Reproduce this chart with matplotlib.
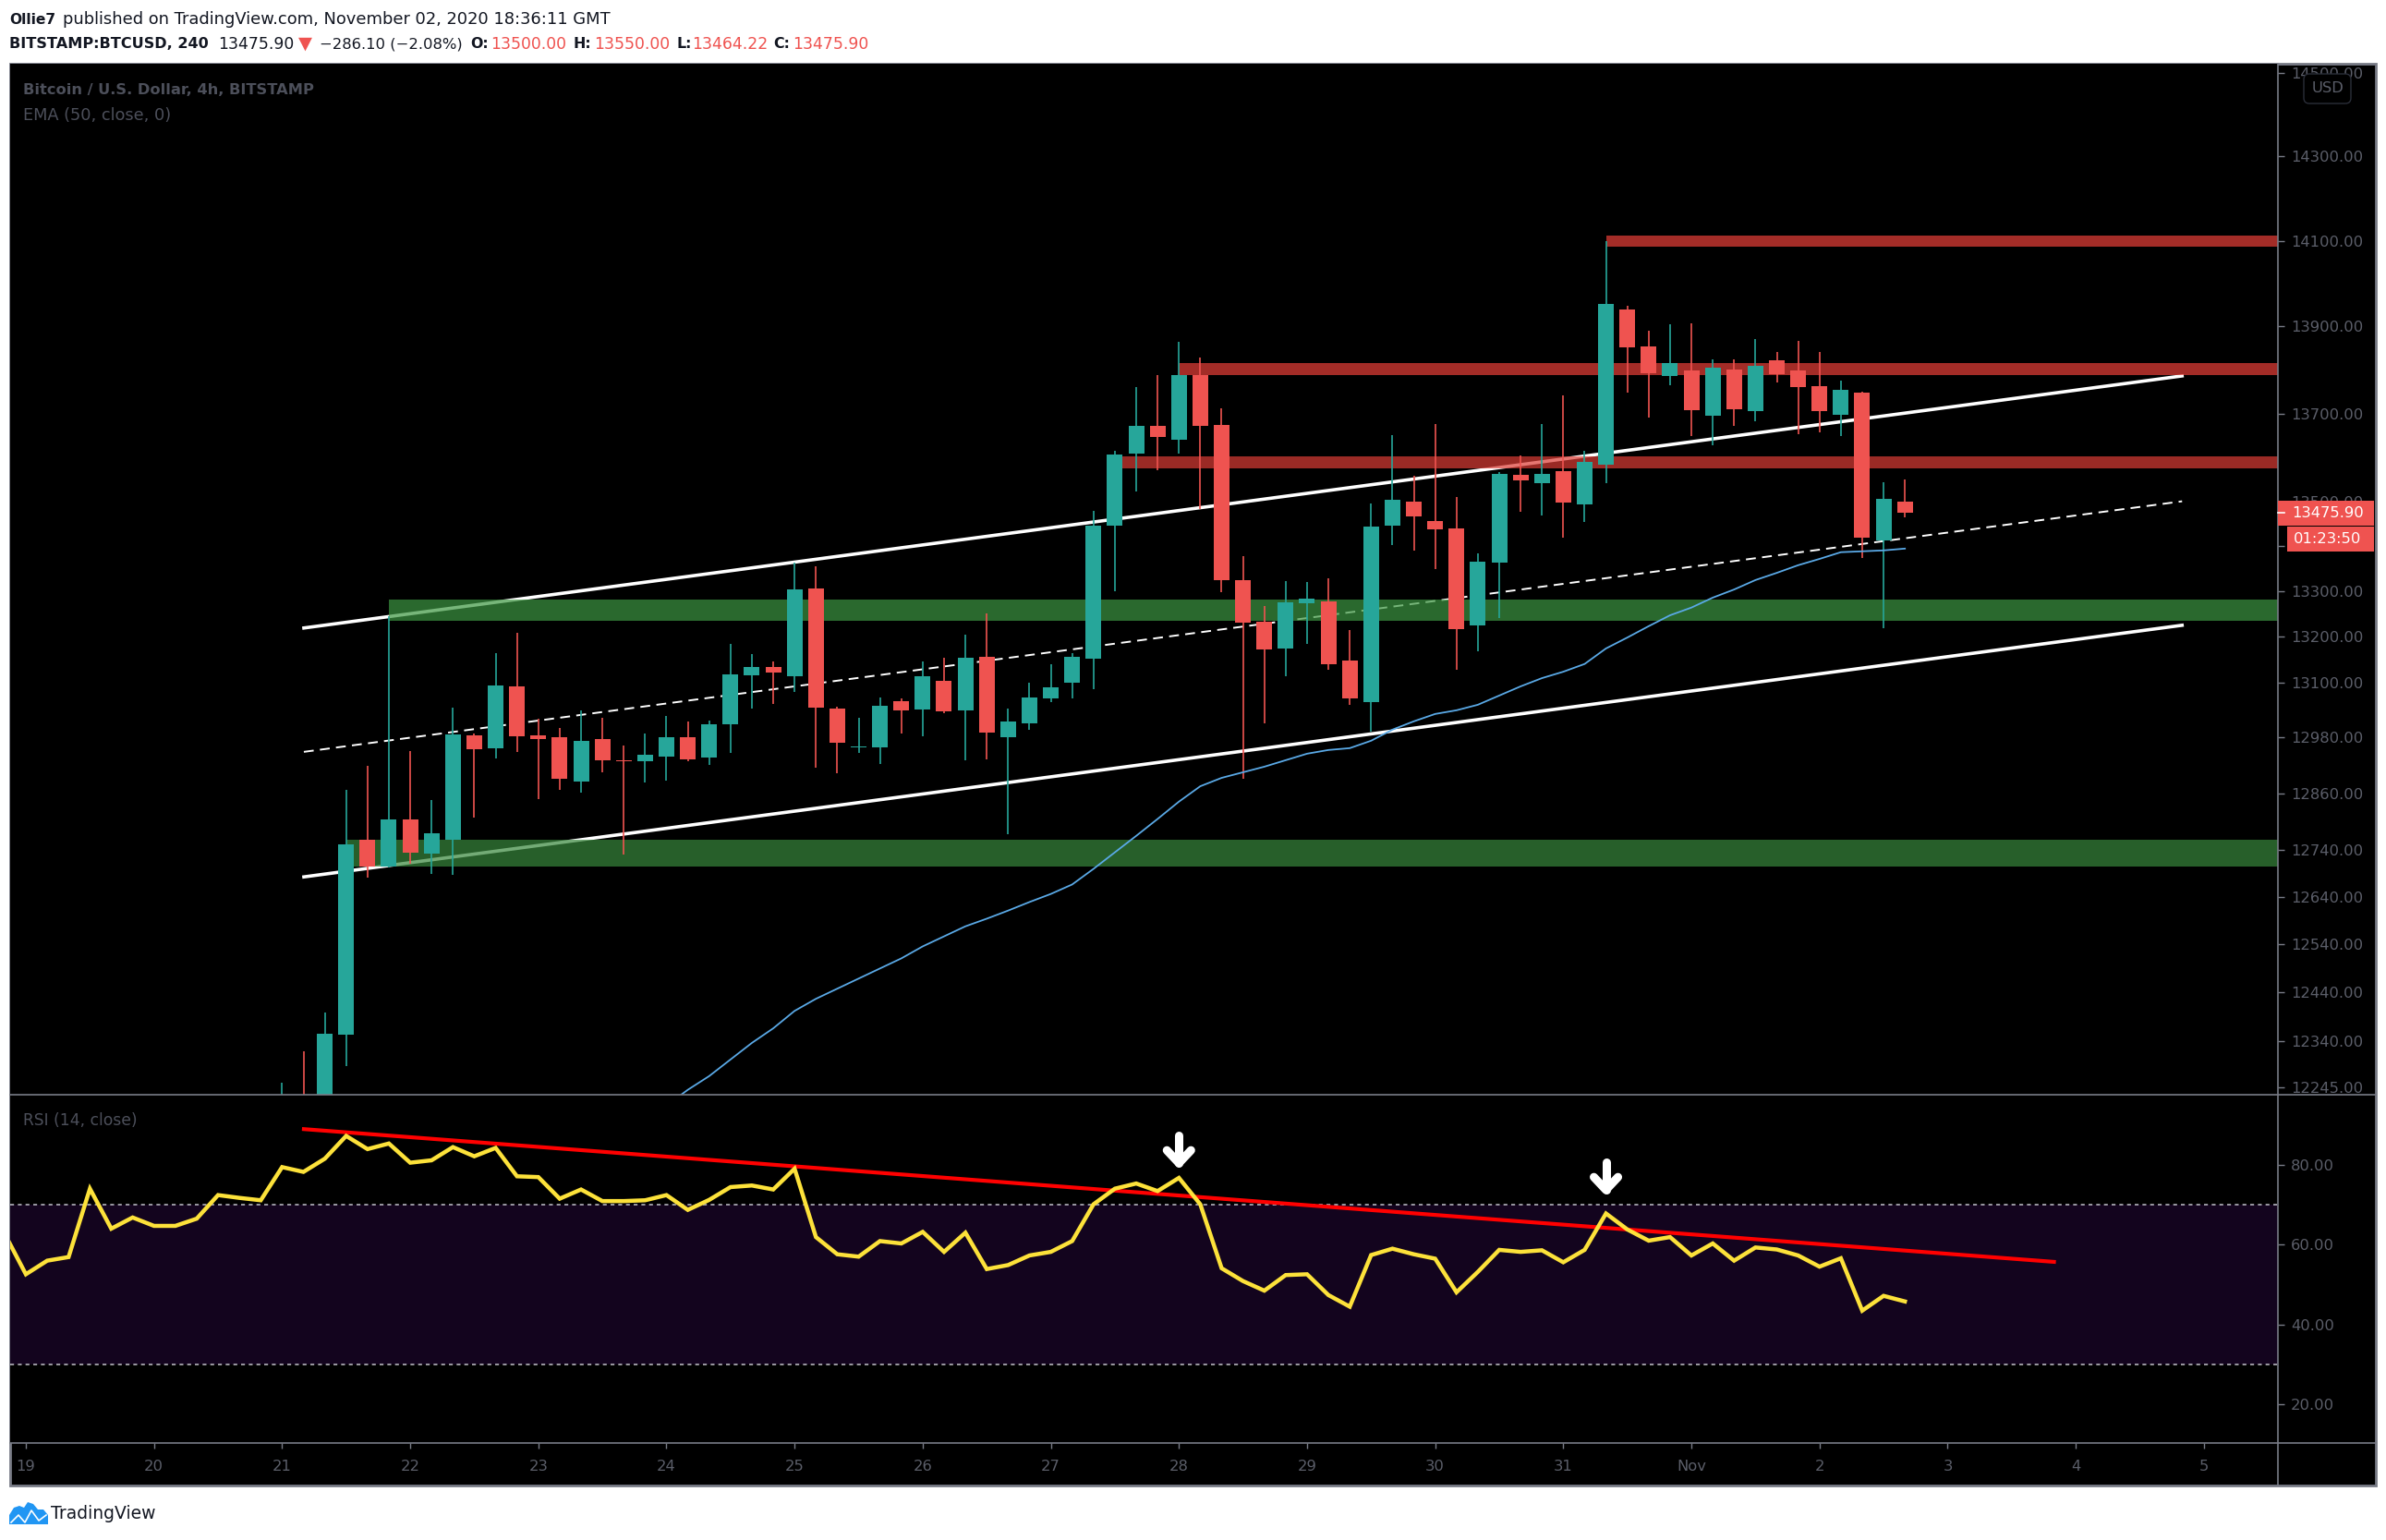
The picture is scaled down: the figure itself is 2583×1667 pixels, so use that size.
import matplotlib
matplotlib.use("Agg")
import matplotlib.pyplot as plt
from matplotlib.lines import Line2D
from matplotlib.patches import Polygon, Rectangle, FancyBboxPatch
from matplotlib.ticker import NullLocator
from matplotlib.transforms import Affine2D

plt.rcParams['font.family'] = ['DejaVu Sans']

W, H = 2583, 1667
TEAL = '#26a69a'
RED = '#ef5350'
AXIS = '#787b86'
LABEL = '#5b5e69'
DARK = '#131722'

# 4h candles, first one opens 21 Oct 00:00
opens = [12120, 12200, 12170, 12353, 12761, 12703, 12805, 12732, 12761, 12985,
         12957, 13091, 12985, 12981, 12885, 12977, 12931, 12929, 12939, 12981,
         12937, 13009, 13115, 13134, 13113, 13306, 13043, 12959, 12959, 13059,
         13041, 13103, 13039, 13156, 12981, 13011, 13065, 13099, 13152, 13446,
         13609, 13672, 13640, 13788, 13674, 13325, 13233, 13174, 13274, 13278,
         13148, 13057, 13446, 13500, 13457, 13440, 13225, 13364, 13561, 13542,
         13569, 13494, 13584, 13940, 13854, 13786, 13799, 13695, 13801, 13706,
         13822, 13799, 13763, 13697, 13748, 13413, 13500]
highs = [12255, 12319, 12399, 12868, 12919, 13245, 12951, 12846, 13045, 12989,
         13164, 13209, 13021, 13001, 13039, 13023, 12963, 12989, 13027, 13015,
         13017, 13184, 13162, 13146, 13364, 13356, 13047, 13023, 13067, 13065,
         13146, 13154, 13204, 13251, 13043, 13099, 13140, 13164, 13480, 13615,
         13761, 13788, 13865, 13829, 13712, 13378, 13268, 13323, 13321, 13329,
         13215, 13496, 13651, 13559, 13676, 13511, 13385, 13567, 13605, 13676,
         13741, 13615, 14099, 13948, 13890, 13905, 13907, 13824, 13824, 13871,
         13841, 13867, 13841, 13775, 13750, 13544, 13550]
lows = [12050, 12100, 12130, 12289, 12681, 12701, 12710, 12689, 12687, 12807,
        12935, 12949, 12848, 12868, 12862, 12905, 12730, 12884, 12888, 12929,
        12921, 12947, 13043, 13053, 13079, 12915, 12903, 12947, 12923, 12989,
        12983, 13033, 12931, 12933, 12773, 12997, 13057, 13065, 13085, 13300,
        13523, 13571, 13609, 13484, 13298, 12891, 13011, 13113, 13184, 13127,
        13051, 12993, 13403, 13391, 13350, 13127, 13168, 13241, 13478, 13469,
        13420, 13455, 13542, 13748, 13691, 13765, 13649, 13628, 13672, 13682,
        13771, 13653, 13657, 13649, 13374, 13219, 13464.22]
closes = [12190, 12130, 12355, 12750, 12703, 12805, 12734, 12775, 12987, 12955,
          13093, 12983, 12977, 12891, 12973, 12931, 12929, 12943, 12981, 12933,
          13009, 13117, 13134, 13121, 13304, 13045, 12969, 12961, 13049, 13039,
          13113, 13037, 13154, 12991, 13015, 13067, 13089, 13156, 13446, 13607,
          13672, 13647, 13788, 13672, 13325, 13231, 13172, 13276, 13284, 13140,
          13065, 13444, 13505, 13467, 13438, 13217, 13366, 13563, 13548, 13563,
          13498, 13590, 13952, 13852, 13792, 13816, 13708, 13805, 13710, 13809,
          13790, 13761, 13706, 13754, 13420, 13507, 13475.9]

# EMA starts at candle 18, the earlier part is under the visible range
ema = [12208, 12240, 12268, 12302, 12336, 12366, 12402, 12427, 12448, 12469,
       12490, 12511, 12536, 12557, 12578, 12594, 12611, 12629, 12646, 12666,
       12699, 12734, 12769, 12805, 12842, 12875, 12893, 12905, 12917, 12931,
       12945, 12953, 12957, 12973, 12997, 13015, 13031, 13039, 13051, 13071,
       13091, 13109, 13123, 13140, 13174, 13198, 13223, 13247, 13264, 13286,
       13304, 13325, 13341, 13358, 13372, 13387, 13389, 13391, 13395]

# RSI starts 13 candles before the first candle above
rsi = [62.8, 52.6, 56.0, 56.9, 74.0, 64.0, 66.8, 64.7, 64.7, 66.5, 72.4, 71.7, 71.1,
       79.4, 78.2, 81.5, 87.2, 83.9, 85.3, 80.5, 81.1, 84.4, 82.1, 84.2, 77.1, 76.9,
       71.5, 73.8, 70.9, 70.9, 71.1, 72.4, 68.7, 71.2, 74.4, 74.8, 73.8, 79.0, 61.9,
       57.6, 57.0, 60.9, 60.3, 63.2, 58.2, 63.0, 53.9, 54.9, 57.3, 58.2, 60.9, 70.1,
       74.0, 75.3, 73.4, 76.7, 70.1, 54.1, 50.9, 48.5, 52.4, 52.6, 47.4, 44.5, 57.4,
       59.0, 57.6, 56.5, 48.1, 53.2, 58.7, 58.2, 58.6, 55.6, 58.7, 67.8, 63.8, 61.0,
       61.9, 57.3, 60.3, 56.0, 59.3, 58.8, 57.3, 54.5, 56.6, 43.5, 47.2, 45.8]

# channel lines: days since 19 Oct at both ends, price at both ends
channel_days = [2.17, 16.83]
channel_upper = [13219, 13786]
channel_middle = [12949, 13501]
channel_lower = [12682, 13225]

# horizontal zones: start day, low, high, colour
zone_start = [2.833, 2.5, 12.333, 9.0, 8.5]
zone_low = [13235, 12704, 14086, 13788, 13575]
zone_high = [13282, 12761, 14112, 13816, 13603]
zone_color = ['#3d9742', '#38883c', '#e93f38', '#e93f38', '#dc3c35']

rsi_trend_days = [2.17, 15.83]
rsi_trend = [88.9, 55.7]
arrow_days = [9.0, 12.333]
arrow_tips = [79.4, 72.7]

day_labels = ['19', '20', '21', '22', '23', '24', '25', '26', '27', '28', '29',
              '30', '31', 'Nov', '2', '3', '4', '5']
price_ticks = [14500, 14300, 14100, 13900, 13700, 13500, 13400, 13300, 13200,
               13100, 12980, 12860, 12740, 12640, 12540, 12440, 12340, 12245]
rsi_ticks = [80, 60, 40, 20]

candle_days = [2 + i / 6 for i in range(len(opens))]
ema_days = [2 + (i + 18) / 6 for i in range(len(ema))]
rsi_days = [2 + (i - 13) / 6 for i in range(len(rsi))]

fig = plt.figure(figsize=(W / 100, H / 100), dpi=100, facecolor='white')
# pixel coordinates of the picture, y going down
px = Affine2D().scale(1 / W, -1 / H).translate(0, 1) + fig.transFigure


def fig_text(x, y, s, color=DARK, size=12.4, weight='normal', ha='left', **kw):
    fig.text(x, y, s, color=color, fontsize=size, fontweight=weight, ha=ha,
             va='center', transform=px, zorder=6, **kw)


def fig_line(x0, y0, x1, y1, lw=1.2, color=AXIS, zorder=4):
    fig.add_artist(Line2D([x0, x1], [y0, y1], transform=px, color=color, lw=lw, zorder=zorder))


left, right, top, mid, bottom = 11, 2466, 69, 1185, 1562
ax = fig.add_axes([left / W, 1 - mid / H, (right - left) / W, (mid - top) / H], facecolor='black')
ax2 = fig.add_axes([left / W, 1 - bottom / H, (right - left) / W, (bottom - mid) / H], facecolor='black')

fig.add_artist(Rectangle((left, top), 2572 - left, 1608 - top, transform=px, facecolor='black',
                         edgecolor=AXIS, lw=2, zorder=-1))

# price pane
ax.set_yscale('log')
ax.set_xlim(-0.1226, 17.578)
ax.set_ylim(12230, 14522)

ax.plot(channel_days, channel_upper, color='white', lw=2.6, zorder=1)
ax.plot(channel_days, channel_lower, color='white', lw=2.6, zorder=1)
ax.plot(channel_days, channel_middle, color='white', lw=1.4, ls=(0, (5.5, 3.5)), zorder=1)

for start, lo, hi, c in zip(zone_start, zone_low, zone_high, zone_color):
    ax.fill_between([start, 17.578], [lo, lo], [hi, hi], color=c, alpha=0.7, lw=0, zorder=2)

colors = [TEAL if c > o else RED for o, c in zip(opens, closes)]
ax.vlines(candle_days, lows, highs, colors=colors, lw=1.2, zorder=3)
ax.bar(candle_days, [abs(c - o) for o, c in zip(opens, closes)], width=0.1226,
       bottom=[min(o, c) for o, c in zip(opens, closes)], color=colors, lw=0, zorder=3.1)
ax.plot(ema_days, ema, color='#5aa9e6', lw=1.3, zorder=4)

ax.set_xticks([])
ax.yaxis.tick_right()
ax.yaxis.set_minor_locator(NullLocator())
ax.set_yticks(price_ticks, ['%.2f' % p for p in price_ticks])
ax.tick_params(axis='y', length=5, width=1, color=AXIS, labelcolor=LABEL, labelsize=11.8, pad=5.5)

# rsi pane
ax2.set_xlim(-0.1226, 17.578)
ax2.set_ylim(10.4, 97.5)
ax2.axhspan(30, 70, color='#13041e', lw=0, zorder=0)
ax2.axhline(70, color='#b4b4bc', lw=1.2, ls=(0, (2.5, 2.5)), zorder=1)
ax2.axhline(30, color='#b4b4bc', lw=1.2, ls=(0, (2.5, 2.5)), zorder=1)
ax2.plot(rsi_trend_days, rsi_trend, color='#ff0000', lw=3, zorder=2)
ax2.plot(rsi_days, rsi, color='#fde23a', lw=3.2, zorder=3, solid_joinstyle='miter')

for day, tip in zip(arrow_days, arrow_tips):
    ax2.plot([day, day], [tip + 1.0, tip + 7.9], color='white', lw=6.5,
             solid_capstyle='round', zorder=5)
    ax2.plot([day - 0.094, day, day + 0.094], [tip + 4.2, tip + 1.0, tip + 4.2], color='white', lw=6.5,
             solid_capstyle='round', solid_joinstyle='round', zorder=5)

ax2.set_xticks(range(len(day_labels)), day_labels)
ax2.yaxis.tick_right()
ax2.set_yticks(rsi_ticks, ['%.2f' % r for r in rsi_ticks])
ax2.tick_params(axis='y', length=5, width=1, color=AXIS, labelcolor=LABEL, labelsize=11.8, pad=5)
ax2.tick_params(axis='x', length=4, width=1, color=AXIS, labelcolor=LABEL, labelsize=11.8, pad=9)

for a in (ax, ax2):
    for s in a.spines.values():
        s.set_visible(False)

fig_line(left, mid, 2572, mid)
fig_line(left, bottom, 2572, bottom)
fig_line(right, top, right, 1608)

# header
fig_text(10, 21, 'Ollie7', size=11.2, weight='bold')
fig_text(68, 21, 'published on TradingView.com, November 02, 2020 18:36:11 GMT', size=12.9)
fig_text(10, 48, 'BITSTAMP:BTCUSD, 240', size=11.6, weight='bold')
fig_text(236, 48, '13475.90')
fig_text(323, 47, '▼', color=RED, size=14)
fig_text(346, 48, '−286.10 (−2.08%)', size=11.8)
for x_l, lab, x_v, val in [(509, 'O:', 531, '13500.00'), (620, 'H:', 643, '13550.00'),
                           (732, 'L:', 749, '13464.22'), (837, 'C:', 858, '13475.90')]:
    fig_text(x_l, 48, lab, size=11.4, weight='bold')
    fig_text(x_v, 48, val, color=RED)

fig_text(25, 98, 'Bitcoin / U.S. Dollar, 4h, BITSTAMP', color='#4c4f5a', size=11.7, weight='bold')
fig_text(25, 125, 'EMA (50, close, 0)', color='#4c4f5a', size=12.8)
fig_text(25, 1213, 'RSI (14, close)', color='#4c4f5a', size=12.3)

# USD box over the top label
fig.add_artist(FancyBboxPatch((2497, 83), 45, 26, boxstyle='round,pad=3,rounding_size=6', transform=px,
                              facecolor='black', edgecolor='#2a2e39', lw=1, zorder=5))
fig_text(2520, 95, 'USD', color=LABEL, size=11.8, ha='center')

# last price and countdown tags
fig.add_artist(Rectangle((2466, 542), 104, 27, transform=px, facecolor=RED, lw=0, zorder=5))
fig.add_artist(Rectangle((2476, 570), 94, 27, transform=px, facecolor=RED, lw=0, zorder=5))
fig_line(2466, 555, 2473, 555, color='white', zorder=6)
fig_text(2520, 555, '13475.90', color='white', size=11.8, ha='center')
fig_text(2520, 583, '01:23:50', color='white', size=11.8, ha='center')

# logo
fig.add_artist(Polygon([(10, 1650), (10, 1640), (15, 1632), (21, 1630), (26, 1632), (30, 1626),
                        (36, 1628), (41, 1634), (47, 1634), (52, 1640), (52, 1650)], closed=True,
                       transform=px, facecolor='#2196f3', lw=0, zorder=5))
fig.add_artist(Line2D([12, 20, 27, 34, 42, 50], [1648, 1640, 1648, 1635, 1646, 1640], transform=px,
                      color='white', lw=1.2, zorder=6))
fig_text(55, 1638, 'TradingView', size=13.5)

fig.savefig('out.png', dpi=100, facecolor='white')
